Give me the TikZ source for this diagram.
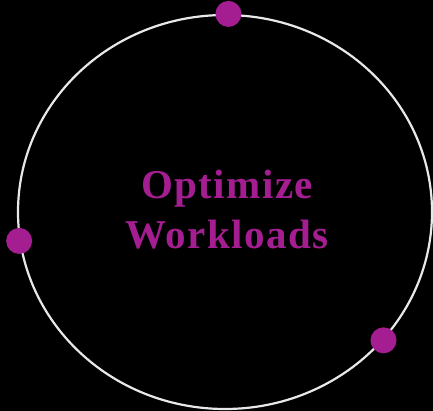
\documentclass[tikz,border=0pt]{standalone}
\usepackage{fontspec}
\setmainfont{Liberation Serif}
\newfontfamily\spacedserif[LetterSpace=3.5]{Liberation Serif}
\usepackage{xcolor}
\usetikzlibrary{shapes.geometric}

\definecolor{plum}{RGB}{165,30,145}
\definecolor{ringgray}{RGB}{232,232,232}

\begin{document}
\begin{tikzpicture}[
    x=1pt, y=1pt,
    every node/.style={align=center},
    ring/.style={draw=ringgray, line width=2.2pt, ellipse, minimum width=414pt,
                 minimum height=394pt, inner sep=0pt},
    dot/.style={circle, fill=plum, minimum size=26pt, inner sep=0pt},
    label/.style={text=plum, font=\spacedserif\fontsize{41}{50}\selectfont\bfseries},
]

% Canvas
\fill[black] (0,0) rectangle (433,-411);
\useasboundingbox (0,0) rectangle (433,-411);

% Ring and dots
\node[ring] (ring) at (225,-212) {};
\node[dot] (top)   at (ring.89)  {};
\node[dot] (left)  at (ring.188) {};
\node[dot] (right) at (ring.321) {};

% Title
\node[label] (title) at (227,-210) {Optimize\\Workloads};

\end{tikzpicture}
\end{document}
